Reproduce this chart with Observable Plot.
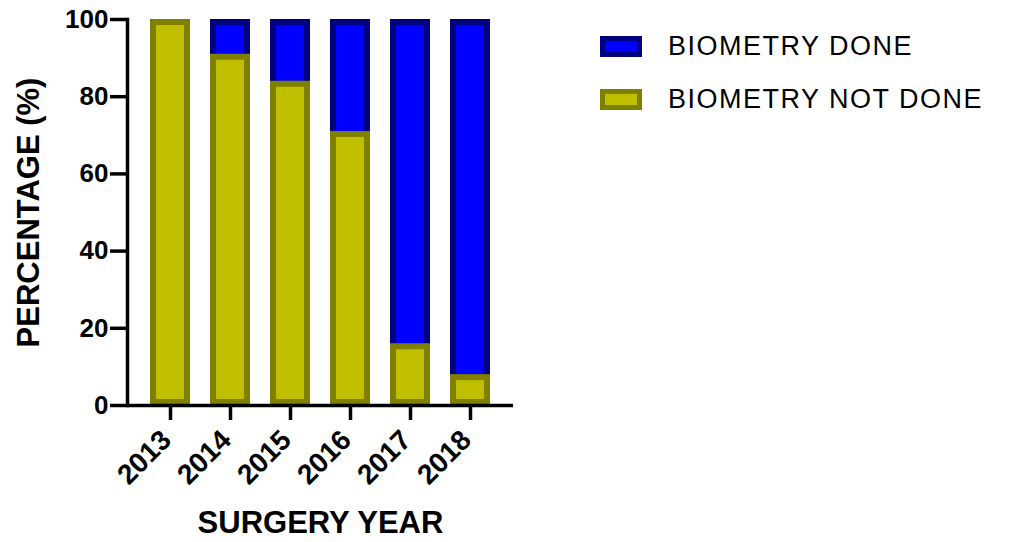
<!DOCTYPE html>
<html>
<head>
<meta charset="utf-8">
<script src="https://cdn.jsdelivr.net/npm/d3@7"></script>
<script src="https://cdn.jsdelivr.net/npm/@observablehq/plot@0.6"></script>
<style>
  html, body { margin: 0; padding: 0; background: #fff; }
  #wrap { position: relative; width: 1010px; height: 542px; font-family: "Liberation Sans", Arial, sans-serif; }
  #legend { position: absolute; left: 600px; top: 36px; }
  .item { position: absolute; left: 0; height: 21px; white-space: nowrap; display: flex; align-items: center; }
  .sw { width: 32px; height: 11px; border: 5px solid; box-sizing: content-box; flex: none; }
  .lab { margin-left: 26px; font-size: 27px; line-height: 21px; letter-spacing: 1.5px; color: #000; }
</style>
</head>
<body>
<div id="wrap">
  <div id="chart"></div>
  <div id="legend"></div>
</div>
<script>
const years = ["2013", "2014", "2015", "2016", "2017", "2018"];
const notDone = [100, 91, 84, 71, 16, 8];
const done = [0, 9, 16, 29, 84, 92];
const seriesNames = ["BIOMETRY DONE", "BIOMETRY NOT DONE"];
const fills = ["#0000ff", "#bfbf00"];
const strokes = ["#00007f", "#7f7f00"];
const yTicks = [0, 20, 40, 60, 80, 100];

const rows = years.map((y, i) => ({year: y, notDone: notDone[i], done: done[i], top: notDone[i] + done[i]}));

const chart = Plot.plot({
  width: 1010,
  height: 542,
  marginLeft: 127,
  marginRight: 497,
  marginTop: 19,
  marginBottom: 137,
  style: {fontFamily: "'Liberation Sans', Arial, sans-serif", background: "#fff", color: "#000"},
  x: {type: "band", domain: years, padding: 0.33},
  y: {domain: [0, 100]},
  marks: [
    Plot.barY(rows.filter(d => d.done > 0), {
      x: "year", y1: "notDone", y2: "top",
      fill: fills[0], stroke: strokes[0], strokeWidth: 6,
      insetLeft: 3, insetRight: 3, insetTop: 3, insetBottom: -3
    }),
    Plot.barY(rows, {
      x: "year", y1: 0, y2: "notDone",
      fill: fills[1], stroke: strokes[1], strokeWidth: 6,
      insetLeft: 3, insetRight: 3, insetTop: 3, insetBottom: 3
    }),
    Plot.ruleY([0], {stroke: "#000", strokeWidth: 3.5}),
    Plot.frame({anchor: "left", stroke: "#000", strokeWidth: 3.5}),
    Plot.axisY({
      ticks: yTicks, tickSize: 17, tickPadding: 2, strokeWidth: 3.5,
      fontSize: 26, fontWeight: "bold", label: null, style: {letterSpacing: "1px"}
    }),
    Plot.axisX({
      tickSize: 15, strokeWidth: 3.5, tickFormat: () => "", label: null
    }),
    Plot.axisX({
      tickSize: 0, tickPadding: 30, tickRotate: -45, dx: -4,
      fontSize: 28, fontWeight: "bold", label: null
    }),
    Plot.text(["SURGERY YEAR"], {
      frameAnchor: "bottom", dy: 118, text: d => d,
      fontSize: 31, fontWeight: "bold", lineAnchor: "middle"
    }),
    Plot.text(["PERCENTAGE (%)"], {
      frameAnchor: "left", dx: -98, rotate: -90, text: d => d, textAnchor: "middle",
      fontSize: 31, fontWeight: "bold", lineAnchor: "middle"
    })
  ]
});
document.getElementById("chart").appendChild(chart);

const legend = document.getElementById("legend");
const tops = [0, 53];
seriesNames.forEach((name, i) => {
  const item = document.createElement("div");
  item.className = "item";
  item.style.top = tops[i] + "px";
  const sw = document.createElement("div");
  sw.className = "sw";
  sw.style.background = fills[i];
  sw.style.borderColor = strokes[i];
  const lab = document.createElement("span");
  lab.className = "lab";
  lab.textContent = name;
  item.appendChild(sw);
  item.appendChild(lab);
  legend.appendChild(item);
});
</script>
</body>
</html>
